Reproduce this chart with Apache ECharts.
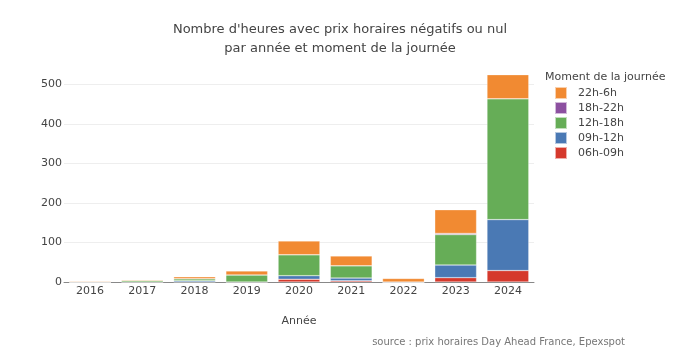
<!DOCTYPE html>
<html>
<head>
<meta charset="utf-8">
<script src="https://cdn.jsdelivr.net/npm/echarts@6/dist/echarts.min.js"></script>
<style>html,body{margin:0;padding:0;background:#fff}#c{width:680px;height:362px}</style>
</head>
<body>
<div id="c"></div>
<script>
const years = ['2016','2017','2018','2019','2020','2021','2022','2023','2024'];
const h0609 = [0,0,0,0,7,3,0,11,29];
const h0912 = [0,0,3,0,9,7,0,32,129];
const h1218 = [0,4,5,18,53,31,0,77,306];
const h1822 = [0,0,0,0,0,0,0,3,0];
const h2206 = [2,2,5,10,35,25,9,60,61];
const yTicks = [0,100,200,300,400,500];

const FONT = '"DejaVu Sans", Verdana, sans-serif';
const chart = echarts.init(document.getElementById('c'), null, {renderer:'canvas'});
const mk = (name, data, color) => ({
  name, type:'bar', stack:'t', data, barCategoryGap:'20%',
  itemStyle:{color, borderColor:'rgba(255,255,255,0.6)', borderWidth:0.5},
  emphasis:{disabled:true}
});
chart.setOption({
  animation:false,
  textStyle:{fontFamily:FONT},
  title:[
    {text:"Nombre d'heures avec prix horaires négatifs ou nul\npar année et moment de la journée",
     left:335, top:15, textAlign:'center',
     textStyle:{fontFamily:FONT, fontSize:13, fontWeight:'normal', color:'#444', lineHeight:19}},
    {text:'Moment de la journée', left:540, top:67,
     textStyle:{fontFamily:FONT, fontSize:11, fontWeight:'normal', color:'#444'}},
    {text:'source : prix horaires Day Ahead France, Epexspot', right:50, top:332,
     textStyle:{fontFamily:FONT, fontSize:10, fontWeight:'normal', color:'#777'}}
  ],
  legend:{
    orient:'vertical', left:554, top:86, padding:0, itemWidth:12, itemHeight:12, itemGap:1,
    icon:'rect',
    data:['22h-6h','18h-22h','12h-18h','09h-12h','06h-09h'],
    textStyle:{fontFamily:FONT, fontSize:11, color:'#444', padding:[0,0,0,6]}
  },
  grid:{left:64, right:146, top:64, bottom:80, containLabel:false},
  xAxis:{
    type:'category', data:years,
    name:'Année', nameLocation:'middle', nameGap:34,
    nameTextStyle:{fontFamily:FONT, fontSize:11, color:'#444'},
    axisLine:{lineStyle:{color:'#888', width:1}},
    axisTick:{show:false},
    axisLabel:{fontFamily:FONT, fontSize:11, color:'#444', margin:4}
  },
  yAxis:{
    type:'value', min:0, max:552, interval:100,
    axisLine:{show:false}, axisTick:{show:false},
    axisLabel:{fontFamily:FONT, fontSize:11, color:'#444', margin:2, showMaxLabel:false,
      formatter:v => yTicks.includes(v) ? String(v) : ''},
    splitLine:{lineStyle:{color:'#eeeeee', width:1}, showMaxLine:false}
  },
  series:[
    mk('06h-09h', h0609, '#d5392c'),
    mk('09h-12h', h0912, '#4a79b4'),
    mk('12h-18h', h1218, '#66ad57'),
    mk('18h-22h', h1822, '#8c50a0'),
    mk('22h-6h', h2206, '#f18a32')
  ]
});
</script>
</body>
</html>
